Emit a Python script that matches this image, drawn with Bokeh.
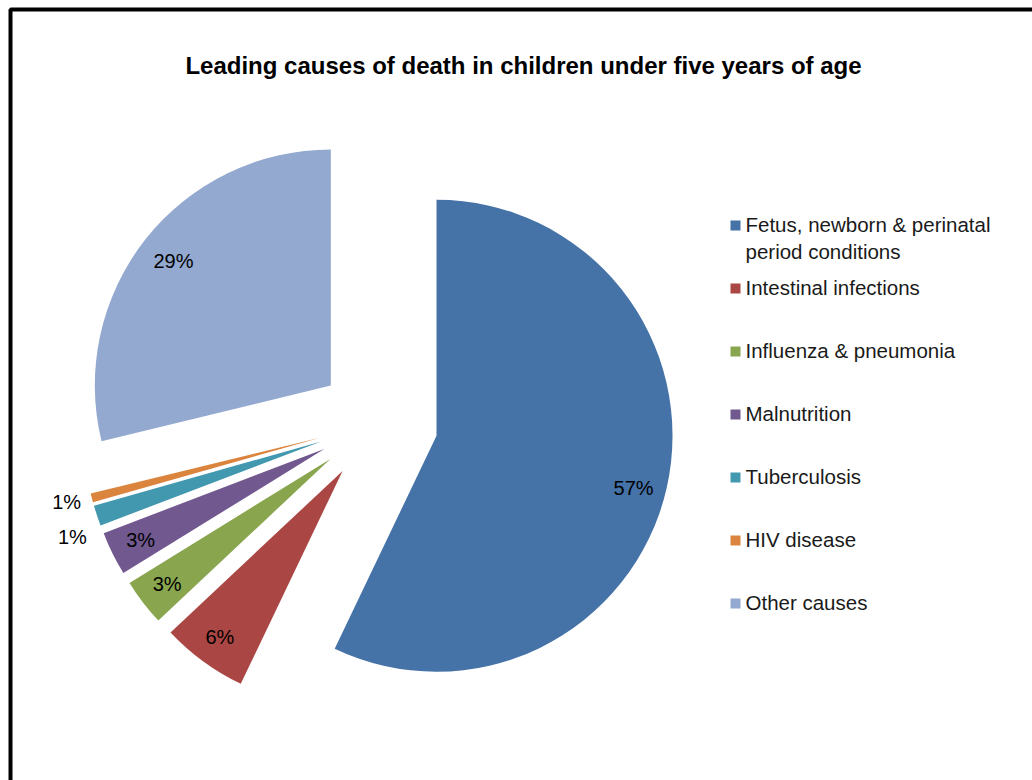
import math
import textwrap
from bokeh.plotting import figure
from bokeh.models import Range1d
from bokeh.core.properties import value
from bokeh.embed import file_html
from bokeh.resources import INLINE

# ---- data ----
causes = [
    "Fetus, newborn & perinatal period conditions",
    "Intestinal infections",
    "Influenza & pneumonia",
    "Malnutrition",
    "Tuberculosis",
    "HIV disease",
    "Other causes",
]
shares = [57.1, 5.9, 3.2, 3.0, 1.4, 0.6, 28.8]
colors = ["#4572A7", "#AA4643", "#89A54E", "#71588F", "#4198AF", "#DB843D", "#93A9CF"]
title_text = "Leading causes of death in children under five years of age"

# ---- layout ----
W, H = 1032, 780
CX, CY = 377.5, H - 422      # pie centre (y up)
R = 236                      # radius
EXPLODE = 60                 # explosion distance
FONT = "Liberation Sans"

p = figure(width=W, height=H, output_backend="svg", toolbar_location=None,
           x_range=Range1d(0, W), y_range=Range1d(0, H), min_border=0,
           background_fill_color="white", border_fill_color="white")
p.axis.visible = False
p.grid.visible = False
p.outline_line_color = None

total = sum(shares)
xs, ys, starts, ends = [], [], [], []
lab_x, lab_y, lab_t = [], [], []
out_x, out_y, out_t = [], [], []
theta = 0.0  # clockwise from 12 o'clock, degrees
for v in shares:
    span = v / total * 360.0
    t1, t2 = theta, theta + span
    tm = math.radians((t1 + t2) / 2)
    ax = CX + EXPLODE * math.sin(tm)
    ay = CY + EXPLODE * math.cos(tm)
    xs.append(ax); ys.append(ay)
    starts.append(math.radians(90 - t2)); ends.append(math.radians(90 - t1))
    txt = f"{round(v)}%"
    if v >= 2:
        d = R * 0.86
        tl = tm + math.radians(1)
        lab_x.append(ax + d * math.sin(tl)); lab_y.append(ay + d * math.cos(tl) - 4); lab_t.append(txt)
    else:
        d = R + 26
        out_x.append(ax + d * math.sin(tm)); out_y.append(ay + d * math.cos(tm)); out_t.append(txt)
    theta = t2

# spread outside labels that would overlap
order = sorted(range(len(out_y)), key=lambda i: -out_y[i])
for a, b in zip(order, order[1:]):
    if out_y[a] - out_y[b] < 35:
        mid = (out_y[a] + out_y[b]) / 2 - 5
        out_y[a], out_y[b] = mid + 17.5, mid - 17.5

p.wedge(x=xs, y=ys, radius=R, start_angle=starts, end_angle=ends,
        fill_color=colors, line_color=None)

p.text(x=lab_x, y=lab_y, text=lab_t, text_font=value(FONT), text_font_size="20px",
       text_align="center", text_baseline="middle", text_color="#000000")
p.text(x=out_x, y=out_y, text=out_t, text_font=value(FONT), text_font_size="20px",
       text_align="center", text_baseline="middle", text_color="#000000")

# title
p.text(x=[523], y=[H - 65], text=[title_text], text_font=value(FONT),
       text_font_size="24px", text_font_style="bold", text_align="center",
       text_baseline="middle", text_color="#000000")

# legend
LX, LY0, LSTEP = 735, H - 225, 63
leg_y = [LY0 - i * LSTEP for i in range(len(causes))]
p.scatter(x=[LX] * len(causes), y=leg_y, marker="square", size=10,
          fill_color=colors, line_color=None)
p.text(x=[LX + 10] * len(causes), y=[yy + 1 for yy in leg_y],
       text=[textwrap.fill(c, 26) for c in causes], text_font=value(FONT),
       text_font_size="20.5px", text_align="left", text_baseline="top",
       text_line_height=1.18, text_color="#1a1a1a",
       y_offset=-12)

# frame border (left and top edges visible)
p.line(x=[10, 10, W + 20], y=[-20, H - 9, H - 9], line_color="black", line_width=4)

open("out.html", "w").write(file_html(p, INLINE))
